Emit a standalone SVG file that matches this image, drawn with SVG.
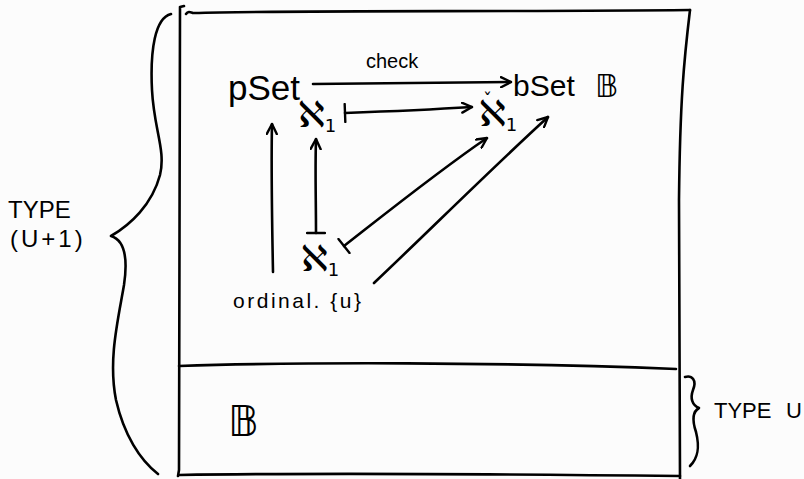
<svg xmlns="http://www.w3.org/2000/svg" width="804" height="479" viewBox="0 0 804 479">
<style>
.ln{fill:none;stroke:#000;stroke-width:2.6;stroke-linecap:round;stroke-linejoin:round}
.t{font-family:"Liberation Sans","DejaVu Sans",sans-serif;fill:#000}
.m{font-family:"DejaVu Sans","Liberation Sans",sans-serif;fill:#000}
.al{font-family:"DejaVu Sans","Liberation Sans",sans-serif;fill:#000;font-size:36px}
.sub{font-size:18px}
</style>
<defs>
<marker id="ah" viewBox="0 0 12 12" refX="11" refY="6" markerWidth="12" markerHeight="12" markerUnits="userSpaceOnUse" orient="auto">
<path d="M1,1 L11,6 L1,11" fill="none" stroke="#000" stroke-width="2.4" stroke-linecap="round" stroke-linejoin="round"/>
</marker>
<marker id="bar" viewBox="0 0 4 20" refX="2" refY="10" markerWidth="4" markerHeight="20" markerUnits="userSpaceOnUse" orient="auto">
<path d="M2,1 L2,19" fill="none" stroke="#000" stroke-width="2.4" stroke-linecap="round"/>
</marker>
</defs>
<rect width="804" height="479" fill="#fcfcfc"/>
<g id="frame">
<path class="ln" d="M180,7 L179,470 L178,476 M180,7 L184,6"/>
<path class="ln" d="M186,14 C188,11 190,12 193,13 C300,10 500,12 690,10"/>
<path class="ln" d="M690,10 C684,60 680,100 679,200 L680,479"/>
<path class="ln" d="M179,366 C300,362 500,362 676,369"/>
<path class="ln" d="M179,475 C300,473 500,474 680,476"/>
</g>
<g id="brace-left">
<path class="ln" d="M171,14 C155,18 150,50 152,90 C154,130 166,150 160,175 C152,205 130,225 111,236 C124,240 128,258 124,285 C118,320 108,360 116,400 C124,435 140,460 158,474"/>
</g>
<g id="brace-right">
<path class="ln" d="M685,377 C692,375 697,380 693,390 C690,398 692,405 699,408 C692,412 692,420 696,432 C700,448 698,458 690,466"/>
</g>
<g id="label-type-u1">
<text class="t" x="8" y="218" font-size="24">TYPE</text>
<text class="t" x="10" y="247" font-size="24" letter-spacing="3">(U+1)</text>
</g>
<g id="label-type-u">
<text class="t" x="714" y="418" font-size="22">TYPE</text>
<text class="t" x="786" y="418" font-size="22">U</text>
</g>
<g id="pSet"><text class="t" x="228" y="100" font-size="35">pSet</text></g>
<g id="bSet"><text class="t" x="513" y="96" font-size="30">bSet</text><text class="m" x="595" y="97" font-size="32">𝔹</text></g>
<g id="aleph-top"><text class="al" x="298" y="127">ℵ<tspan class="sub" dy="5">1</tspan></text></g>
<g id="aleph-check"><text class="m" x="483" y="106" font-size="18">ˇ</text><text class="al" x="479" y="126">ℵ<tspan class="sub" dy="5">1</tspan></text></g>
<g id="aleph-bottom"><text class="al" x="301" y="271">ℵ<tspan class="sub" dy="5">1</tspan></text></g>
<g id="ordinal"><text class="t" x="233" y="308" font-size="21" textLength="128" lengthAdjust="spacing">ordinal. {u}</text></g>
<g id="B-lower"><text class="m" x="228" y="436" font-size="42">𝔹</text></g>
<g id="connectors">
<path class="ln" d="M313,84 C400,83 460,83 511,82" marker-end="url(#ah)"/>
<text class="t" x="366" y="68" font-size="20">check</text>
<path class="ln" d="M345,113 C400,111 440,109 472,107" marker-start="url(#bar)" marker-end="url(#ah)"/>
<path class="ln" d="M273,272 C272,220 271,170 272,124" marker-end="url(#ah)"/>
<path class="ln" d="M316,233 C316,200 315,170 316,139" marker-start="url(#bar)" marker-end="url(#ah)"/>
<path class="ln" d="M344,246 C390,210 440,170 487,138" marker-start="url(#bar)" marker-end="url(#ah)"/>
<path class="ln" d="M374,283 C430,230 490,170 548,117" marker-end="url(#ah)"/>
</g>
</svg>
